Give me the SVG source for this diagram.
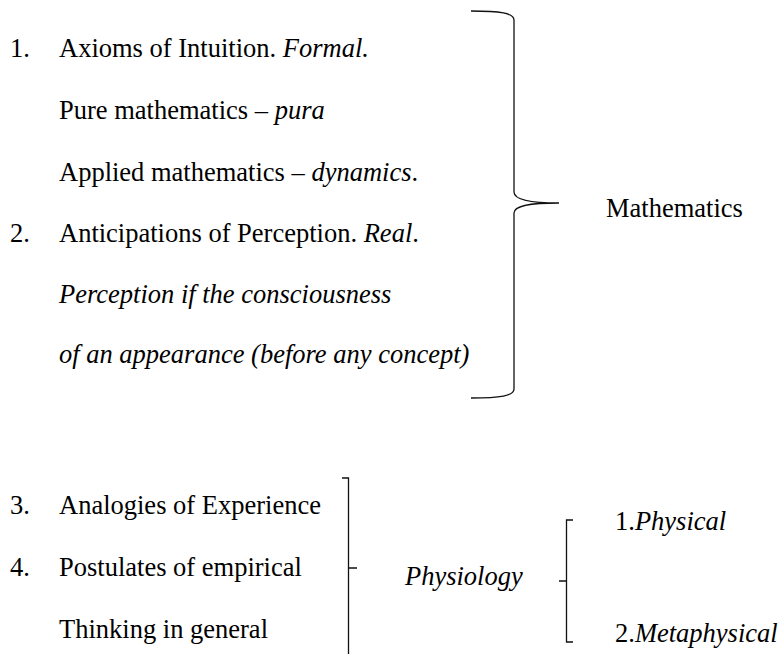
<svg xmlns="http://www.w3.org/2000/svg" width="782" height="654" viewBox="0 0 782 654">
<style>
text{font-family:"Liberation Serif","Times New Roman",serif;font-size:26.5px;fill:#000}
.i{font-style:italic}
.b{fill:none;stroke:#111;stroke-width:1.3}
</style>
<rect width="782" height="654" fill="#fff"/>
<g id="list-top">
<text x="10" y="57">1.</text><text x="59" y="57">Axioms of Intuition. <tspan class="i">Formal.</tspan></text>
<text x="59" y="119">Pure mathematics – <tspan class="i">pura</tspan></text>
<text x="59" y="181">Applied mathematics – <tspan class="i">dynamics</tspan>.</text>
<text x="10" y="242">2.</text><text x="59" y="242">Anticipations of Perception. <tspan class="i">Real</tspan>.</text>
<text x="59" y="303" class="i">Perception if the consciousness</text>
<text x="59" y="363" class="i">of an appearance (before any concept)</text>
</g>
<g id="mathematics"><text x="606" y="217">Mathematics</text></g>
<g id="list-bottom">
<text x="10" y="514">3.</text><text x="59" y="514">Analogies of Experience</text>
<text x="10" y="576">4.</text><text x="59" y="576">Postulates of empirical</text>
<text x="59" y="638">Thinking in general</text>
</g>
<g id="physiology"><text x="405" y="585" class="i">Physiology</text></g>
<g id="physical"><text x="615" y="530">1.<tspan class="i">Physical</tspan></text></g>
<g id="metaphysical"><text x="615" y="642">2.<tspan class="i">Metaphysical</tspan></text></g>
<g id="connectors">
<path class="b" d="M471,11 C500,11 514,13 514,20 L514,192 C514,199 528,203 559,203 C528,203 514,206 514,213 L514,389 C514,396 500,398 471,398"/>
<path class="b" d="M342,478 L348.5,478 L348.5,654 M348.5,568 L357,568"/>
<path class="b" d="M573,520 L566.5,520 L566.5,642 L573,642 M566.5,581 L559,581"/>
</g>
</svg>
